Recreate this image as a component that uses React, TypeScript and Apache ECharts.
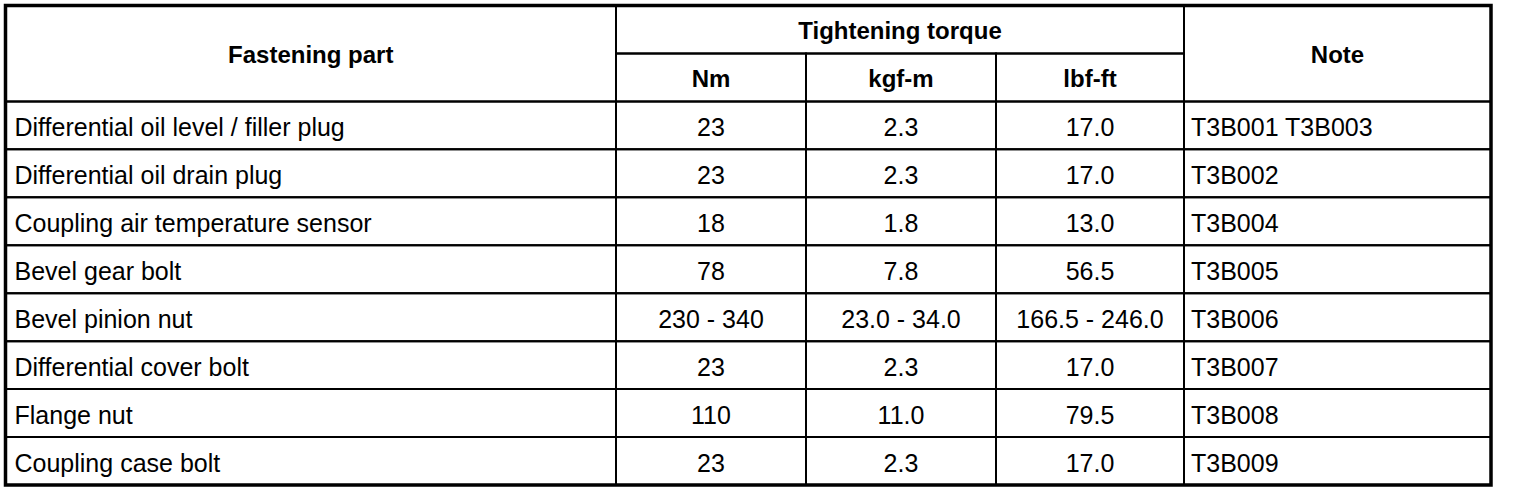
import React, { useEffect, useRef } from "react";
import * as echarts from "echarts";

// ---- data ----
const headerTop = ["Fastening part", "Tightening torque", "Note"];
const unitHeaders = ["Nm", "kgf-m", "lbf-ft"];
const parts = [
  "Differential oil level / filler plug",
  "Differential oil drain plug",
  "Coupling air temperature sensor",
  "Bevel gear bolt",
  "Bevel pinion nut",
  "Differential cover bolt",
  "Flange nut",
  "Coupling case bolt",
];
const nm = ["23", "23", "18", "78", "230 - 340", "23", "110", "23"];
const kgfm = ["2.3", "2.3", "1.8", "7.8", "23.0 - 34.0", "2.3", "11.0", "2.3"];
const lbfft = ["17.0", "17.0", "13.0", "56.5", "166.5 - 246.0", "17.0", "79.5", "17.0"];
const notes = ["T3B001 T3B003", "T3B002", "T3B004", "T3B005", "T3B006", "T3B007", "T3B008", "T3B009"];

// ---- layout (pixel-unit x axis, row-unit y axis) ----
const colEdges = [0, 610.5, 800.5, 990.5, 1178.5, 1485.5];
const FONT = '"Liberation Sans", Arial, Helvetica, sans-serif';

type Cell = [number, number, number, number, string, string, number, number];
// [x0, x1, y0, y1, text, align, bold, kind]  kind: 0 cell, 1 outer border

function buildCells(): Cell[] {
  const cells: Cell[] = [];
  cells.push([colEdges[0], colEdges[1], 0, 2, headerTop[0], "center", 1, 0]);
  cells.push([colEdges[1], colEdges[4], 0, 1, headerTop[1], "center", 1, 0]);
  cells.push([colEdges[4], colEdges[5], 0, 2, headerTop[2], "center", 1, 0]);
  unitHeaders.forEach((u, i) => {
    cells.push([colEdges[1 + i], colEdges[2 + i], 1, 2, u, "center", 1, 0]);
  });
  parts.forEach((p, r) => {
    const y0 = 2 + r;
    const y1 = 3 + r;
    cells.push([colEdges[0], colEdges[1], y0, y1, p, "left", 0, 0]);
    cells.push([colEdges[1], colEdges[2], y0, y1, nm[r], "center", 0, 0]);
    cells.push([colEdges[2], colEdges[3], y0, y1, kgfm[r], "center", 0, 0]);
    cells.push([colEdges[3], colEdges[4], y0, y1, lbfft[r], "center", 0, 0]);
    cells.push([colEdges[4], colEdges[5], y0, y1, notes[r], "left", 0, 0]);
  });
  cells.push([colEdges[0], colEdges[5], 0, 2 + parts.length, "", "left", 0, 1]);
  return cells;
}

export default function App() {
  const ref = useRef<HTMLDivElement>(null);
  useEffect(() => {
    document.body.style.margin = "0";
    document.body.style.overflow = "hidden";
    if (!ref.current) return;
    const chart = echarts.init(ref.current, null, { renderer: "svg" });
    const cells = buildCells();
    chart.setOption({
      animation: false,
      backgroundColor: "#ffffff",
      grid: { left: 5.5, top: 5.5, right: 29, bottom: 7, containLabel: false },
      xAxis: { type: "value", min: 0, max: colEdges[colEdges.length - 1], show: false },
      yAxis: { type: "value", min: 0, max: 2 + parts.length, inverse: true, show: false },
      series: [
        {
          type: "custom",
          coordinateSystem: "cartesian2d",
          clip: false,
          data: cells,
          renderItem: (params: any, api: any) => {
            const x0 = api.value(0);
            const x1 = api.value(1);
            const y0 = api.value(2);
            const y1 = api.value(3);
            const kind = api.value(7);
            const p0 = api.coord([x0, y0]);
            const p1 = api.coord([x1, y1]);
            const cell = cells[params.dataIndex];
            const text = cell[4];
            const align = cell[5];
            const bold = cell[6] === 1;
            if (kind === 1) {
              return {
                type: "rect",
                shape: { x: p0[0], y: p0[1], width: p1[0] - p0[0], height: p1[1] - p0[1] },
                style: { fill: "none", stroke: "#000", lineWidth: 3.5 },
                z2: 10,
              };
            }
            const pad = align === "left" ? (x0 === 0 ? 9 : 7) : 0;
            const tx = align === "left" ? p0[0] + pad : (p0[0] + p1[0]) / 2;
            const ty = (p0[1] + p1[1]) / 2 + 1.5;
            return {
              type: "group",
              children: [
                {
                  type: "rect",
                  shape: { x: p0[0], y: p0[1], width: p1[0] - p0[0], height: p1[1] - p0[1] },
                  style: { fill: "none", stroke: "#000", lineWidth: 2 },
                },
                {
                  type: "text",
                  style: {
                    text,
                    x: tx,
                    y: ty,
                    align,
                    verticalAlign: "middle",
                    fill: "#000",
                    font: `${bold ? "bold " : ""}${bold ? 24 : 25}px ${FONT}`,
                  },
                },
              ],
            };
          },
        },
      ],
    });
    return () => chart.dispose();
  }, []);
  return <div ref={ref} style={{ width: 1520, height: 492 }} />;
}
